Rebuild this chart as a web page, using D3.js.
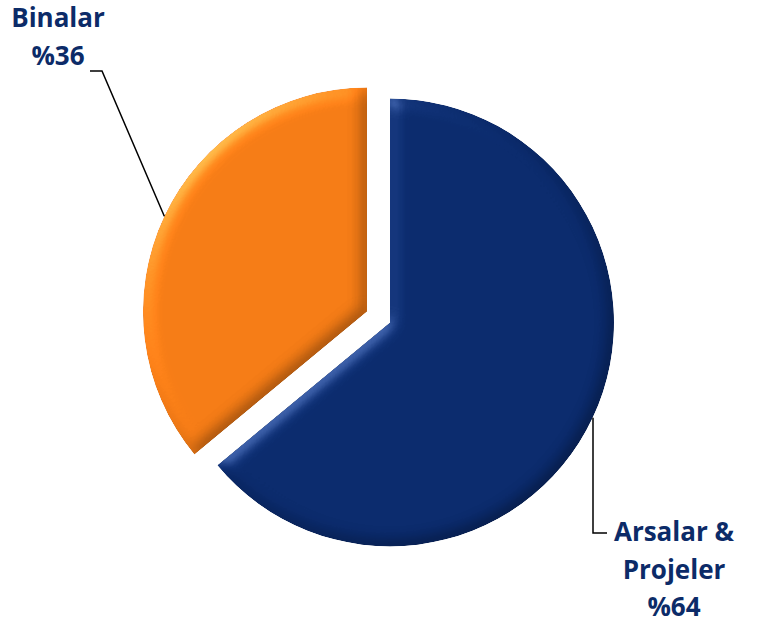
<!DOCTYPE html>
<html>
<head>
<meta charset="utf-8">
<script src="https://cdn.jsdelivr.net/npm/d3@7"></script>
<style>
  html, body { margin: 0; padding: 0; background: #ffffff; }
  svg { display: block; }
</style>
</head>
<body>
<script>
// Portfolio split
const categories = ["Arsalar & Projeler", "Binalar"];
const values = [64, 36];
const labelLines = [["Arsalar &", "Projeler", "%64"], ["Binalar", "%36"]];
const colors = ["#0a2a6c", "#f47b15"];

const W = 757, H = 625;
const cx = 378.5, cy = 317, R = 224, explode = 12.7;

const svg = d3.select("body").append("svg")
  .attr("width", W).attr("height", H);

// Soft bevel: edges lit from the upper left, slightly darker toward the lower right
const defs = svg.append("defs");
const f = defs.append("filter").attr("id", "bevel")
  .attr("color-interpolation-filters", "sRGB")
  .attr("x", "-10%").attr("y", "-10%").attr("width", "120%").attr("height", "120%");
f.append("feGaussianBlur").attr("in", "SourceAlpha").attr("stdDeviation", 8).attr("result", "blur");
const diff = f.append("feDiffuseLighting").attr("in", "blur")
  .attr("surfaceScale", 4).attr("diffuseConstant", 1.0)
  .attr("lighting-color", "#ffffff").attr("result", "diff");
diff.append("feDistantLight").attr("azimuth", 225).attr("elevation", 65);
const spec = f.append("feSpecularLighting").attr("in", "blur")
  .attr("surfaceScale", 4).attr("specularConstant", 0.22).attr("specularExponent", 30)
  .attr("lighting-color", "#ffffff").attr("result", "spec");
spec.append("feDistantLight").attr("azimuth", 225).attr("elevation", 35);
// shaded = src * diffuse / sin(65deg), so the flat interior keeps its colour
f.append("feComposite").attr("in", "SourceGraphic").attr("in2", "diff")
  .attr("operator", "arithmetic").attr("k1", 1.1034).attr("k2", 0).attr("k3", 0).attr("k4", 0)
  .attr("result", "shaded");
f.append("feComposite").attr("in", "spec").attr("in2", "SourceAlpha")
  .attr("operator", "in").attr("result", "specIn");
f.append("feComposite").attr("in", "shaded").attr("in2", "specIn")
  .attr("operator", "arithmetic").attr("k1", 0).attr("k2", 1).attr("k3", 1).attr("k4", 0)
  .attr("result", "lit");
f.append("feComposite").attr("in", "lit").attr("in2", "SourceAlpha").attr("operator", "in");

const pie = d3.pie().sort(null).value(d => d)(values);
const arc = d3.arc().innerRadius(0).outerRadius(R);

const g = svg.append("g").attr("transform", `translate(${cx},${cy})`);

function dirOf(d) {
  const a = (d.startAngle + d.endAngle) / 2;
  return [Math.sin(a), -Math.cos(a)];
}

g.selectAll("path.slice").data(pie).join("path")
  .attr("class", "slice")
  .attr("d", arc)
  .attr("fill", (d, i) => colors[i])
  .attr("transform", d => { const [dx, dy] = dirOf(d); return `translate(${dx * explode},${dy * explode})`; })
  .attr("filter", "url(#bevel)");

// Leader lines and labels
const labelLayout = [
  { elbow: [593, 533], end: [607, 533], text: [674, 541], vertical: true },
  { elbow: [102, 71], end: [90, 71], text: [58, 27], vertical: false }
];

pie.forEach((d, i) => {
  const [dx, dy] = dirOf(d);
  const px = cx + dx * (R + explode), py = cy + dy * (R + explode);
  const L = labelLayout[i];
  const start = L.vertical ? [L.elbow[0], py] : [px, py];
  svg.append("path")
    .attr("d", d3.line()([start, L.elbow, L.end]))
    .attr("fill", "none").attr("stroke", "#000").attr("stroke-width", 1.5);
  const t = svg.append("text")
    .attr("x", L.text[0]).attr("y", L.text[1])
    .attr("text-anchor", "middle")
    .attr("font-family", "'Open Sans', sans-serif")
    .attr("font-weight", 700).attr("font-size", 26)
    .attr("fill", "#0c2b68");
  labelLines[i].forEach((s, k) => {
    t.append("tspan").attr("x", L.text[0]).attr("dy", k === 0 ? 0 : 37.5).text(s);
  });
});
</script>
</body>
</html>
